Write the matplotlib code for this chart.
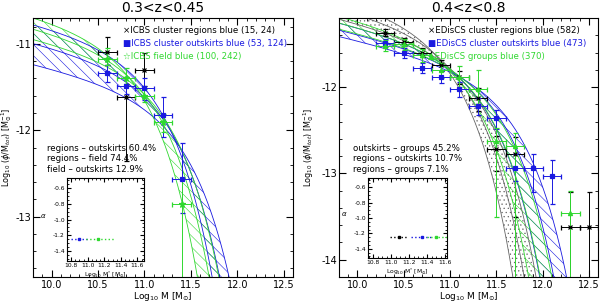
import numpy as np
import matplotlib
matplotlib.use("Agg")
import matplotlib.pyplot as plt
from matplotlib.ticker import MultipleLocator

# ---- colours
BLACK = 'black'
BLUE = '#1a1ae0'
GREEN = '#30d830'

# ---- left panel (0.3<z<0.45), ICBS
l_black_m = [10.6, 10.8, 11.0]
l_black_y = [-11.09, -11.61, -11.30]
l_black_up = [0.17, 0.15, 0.20]
l_black_dn = [0.16, 0.75, 0.19]

l_blue_m = [10.6, 10.8, 11.0, 11.2, 11.4]
l_blue_y = [-11.34, -11.49, -11.51, -11.82, -12.56]
l_blue_up = [0.10, 0.11, 0.12, 0.20, 0.41]
l_blue_dn = [0.10, 0.09, 0.14, 0.26, 0.40]

l_green_m = [10.6, 10.8, 11.0, 11.2, 11.4]
l_green_y = [-11.18, -11.39, -11.60, -11.91, -12.85]
l_green_up = [0.13, 0.11, 0.08, 0.10, 0.30]
l_green_dn = [0.07, 0.08, 0.07, 0.11, 1.50]

# Schechter fits (M*, log norm): lower bound, best, upper bound
l_blue_mstar = [10.975, 11.10, 11.26]
l_blue_norm = [-11.045, -11.30, -11.59]
l_green_mstar = [10.793, 10.95, 11.082]
l_green_norm = [-10.904, -11.087, -11.247]

# inset: alpha vs M*
l_in_m = [10.89, 11.12]
l_in_lo = [10.80, 10.98]
l_in_hi = [11.00, 11.32]
l_in_a = [-1.25, -1.25]
l_in_col = [BLUE, GREEN]

l_legend = ["\u00d7ICBS cluster regions blue (15, 24)",
            "\u25a0ICBS cluster outskirts blue (53, 124)",
            "\u2606ICBS field blue (100, 242)"]
l_stats = ["regions \u2013 outskirts 60.4%",
           "regions \u2013 field 74.4%",
           "field \u2013 outskirts 12.9%"]

# ---- right panel (0.4<z<0.8), EDisCS
r_black_m = [10.3, 10.5, 10.7, 10.9, 11.1, 11.3, 11.5, 11.7, 12.3, 12.5]
r_black_y = [-11.37, -11.48, -11.60, -11.75, -11.88, -12.13, -12.72, -12.78, -13.62, -13.62]
r_black_up = [0.04, 0.05, 0.05, 0.06, 0.07, 0.12, 0.15, 0.20, 0.41, 0.41]
r_black_dn = [0.04, 0.05, 0.05, 0.06, 0.08, 0.15, 0.25, 0.72, 1.00, 1.00]

r_blue_m = [10.3, 10.5, 10.7, 10.9, 11.1, 11.3, 11.5, 11.7, 11.9, 12.1]
r_blue_y = [-11.49, -11.60, -11.78, -11.88, -12.02, -12.22, -12.36, -12.94, -12.94, -13.03]
r_blue_up = [0.05, 0.05, 0.06, 0.07, 0.08, 0.09, 0.10, 0.16, 0.16, 0.18]
r_blue_dn = [0.05, 0.06, 0.06, 0.07, 0.09, 0.10, 0.13, 0.15, 0.27, 0.32]

r_green_m = [10.3, 10.5, 10.7, 10.9, 11.1, 11.3, 11.5, 11.7, 12.3]
r_green_y = [-11.52, -11.50, -11.63, -11.80, -11.88, -12.02, -12.62, -12.68, -13.46]
r_green_up = [0.06, 0.06, 0.07, 0.08, 0.12, 0.22, 0.15, 0.15, 0.26]
r_green_dn = [0.06, 0.07, 0.08, 0.10, 0.12, 0.20, 0.88, 1.60, 1.00]

r_black_mstar = [10.876, 11.02, 11.175]
r_black_norm = [-11.235, -11.38, -11.54]
r_blue_mstar = [11.225, 11.40, 11.56]
r_blue_norm = [-11.60, -11.73, -11.847]
r_green_mstar = [11.085, 11.23, 11.375]
r_green_norm = [-11.483, -11.60, -11.711]

r_in_m = [11.08, 11.34, 11.50]
r_in_lo = [10.98, 11.22, 11.40]
r_in_hi = [11.18, 11.46, 11.70]
r_in_a = [-1.25, -1.25, -1.25]
r_in_col = [BLACK, BLUE, GREEN]

r_legend = ["\u00d7EDisCS cluster regions blue (582)",
            "\u25a0EDisCS cluster outskirts blue (473)",
            "\u25b2EDisCS groups blue (370)"]
r_stats = ["outskirts \u2013 groups 45.2%",
           "regions \u2013 outskirts 10.7%",
           "regions \u2013 groups 7.1%"]

ALPHA = -1.25
plt.rcParams['hatch.linewidth'] = 0.4
plt.rcParams['axes.unicode_minus'] = False


def schechter(m, mstar, norm, alpha=ALPHA):
    x = 10 ** (m - mstar)
    return norm + (1 + alpha) * np.log10(x) - x / np.log(10)


def draw_band(ax, mstars, norms, color, hatch):
    m = np.linspace(9.7, 12.7, 400)
    curves = [schechter(m, ms, nn) for ms, nn in zip(mstars, norms)]
    lo = np.min(curves, axis=0)
    hi = np.max(curves, axis=0)
    ax.fill_between(m, lo, hi, facecolor='none', edgecolor=color,
                    hatch=hatch, linewidth=0)
    for c in curves:
        ax.plot(m, c, color=color, lw=0.6)


def draw_points(ax, m, y, up, dn, color, marker, ms):
    ax.errorbar(m, y, xerr=0.1, yerr=[dn, up], fmt=marker, color=color,
                ms=ms, mew=0.9, elinewidth=0.7, capsize=1.8, capthick=0.7)


def style_axes(ax, ylim, ylab_x):
    ax.set_xlim(9.8, 12.6)
    ax.set_ylim(*ylim)
    ax.xaxis.set_major_locator(MultipleLocator(0.5))
    ax.xaxis.set_minor_locator(MultipleLocator(0.1))
    ax.yaxis.set_major_locator(MultipleLocator(1))
    ax.yaxis.set_minor_locator(MultipleLocator(0.2))
    ax.tick_params(which='both', direction='in', top=True, right=True,
                   labelsize=7, pad=2.5)
    ax.tick_params(axis='y', which='both', pad=1.5)
    ax.tick_params(which='major', length=5)
    ax.tick_params(which='minor', length=2.5)
    ax.set_xlabel(r'Log$_{10}$ M [M$_{\odot}$]', fontsize=6.5)
    ax.xaxis.set_label_coords(0.5, -0.052)
    ax.set_ylabel(r'Log$_{10}$ ($\phi$/M$_{tot}$) [M$_{\odot}^{-1}$]',
                  fontsize=5.8)
    ax.yaxis.set_label_coords(ylab_x, 0.5)


def draw_inset(fig, rect, m, lo, hi, a, cols, xlim):
    ins = fig.add_axes(rect)
    for mm, l, h, aa, c in zip(m, lo, hi, a, cols):
        ins.plot([l, h], [aa, aa], ls=':', color=c, lw=1.0)
        ins.plot([mm], [aa], 's', color=c, ms=2)
    ins.set_xlim(*xlim)
    ins.set_ylim(-1.52, -0.48)
    ins.xaxis.set_major_locator(MultipleLocator(0.2))
    ins.xaxis.set_minor_locator(MultipleLocator(0.05))
    ins.yaxis.set_major_locator(MultipleLocator(0.2))
    ins.yaxis.set_minor_locator(MultipleLocator(0.05))
    ins.tick_params(which='both', direction='in', top=True, right=True,
                    labelsize=4.3, pad=1.5)
    ins.tick_params(which='major', length=3)
    ins.tick_params(which='minor', length=1.5)
    ins.set_xlabel(r'Log$_{10}$ M$^{*}$ [M$_{\odot}$]', fontsize=4.3, labelpad=1)
    ins.set_ylabel(r'$\alpha$', fontsize=5, rotation=0, labelpad=7)
    return ins


fig = plt.figure(figsize=(6, 3.03), dpi=100)
ax1 = fig.add_axes([33 / 600, 1 - 277 / 303, 260 / 600, 259 / 303])
ax2 = fig.add_axes([339 / 600, 1 - 277 / 303, 259 / 600, 259 / 303])

# left panel
draw_band(ax1, l_blue_mstar, l_blue_norm, BLUE, '\\\\\\')
draw_band(ax1, l_green_mstar, l_green_norm, GREEN, '\\\\\\')
draw_points(ax1, l_black_m, l_black_y, l_black_up, l_black_dn, BLACK, 'x', 3.5)
draw_points(ax1, l_blue_m, l_blue_y, l_blue_up, l_blue_dn, BLUE, 's', 3.5)
draw_points(ax1, l_green_m, l_green_y, l_green_up, l_green_dn, GREEN, '*', 4.5)
style_axes(ax1, (-13.7, -10.7), -0.072)
ax1.set_title('0.3<z<0.45', fontsize=10, pad=4)

# right panel
draw_band(ax2, r_black_mstar, r_black_norm, '#666666', '....')
draw_band(ax2, r_blue_mstar, r_blue_norm, BLUE, '\\\\\\')
draw_band(ax2, r_green_mstar, r_green_norm, GREEN, '\\\\\\')
draw_points(ax2, r_black_m, r_black_y, r_black_up, r_black_dn, BLACK, 'x', 3.5)
draw_points(ax2, r_blue_m, r_blue_y, r_blue_up, r_blue_dn, BLUE, 's', 3.5)
draw_points(ax2, r_green_m, r_green_y, r_green_up, r_green_dn, GREEN, '^', 3)
style_axes(ax2, (-14.2, -11.2), -0.09)
ax2.set_title('0.4<z<0.8', fontsize=10, pad=4)

# legends and statistics
for ax, lines in ((ax1, l_legend), (ax2, r_legend)):
    for i, (txt, c) in enumerate(zip(lines, [BLACK, BLUE, GREEN])):
        ax.text(0.345, 0.97 - i * 0.05, txt, color=c, fontsize=6.2,
                transform=ax.transAxes, va='top', ha='left')
for ax, lines in ((ax1, l_stats), (ax2, r_stats)):
    for i, txt in enumerate(lines):
        ax.text(0.055, 0.515 - i * 0.042, txt, color='black', fontsize=6.2,
                transform=ax.transAxes, va='top', ha='left')

draw_inset(fig, [67 / 600, 1 - 261 / 303, 77 / 600, 83 / 303],
           l_in_m, l_in_lo, l_in_hi, l_in_a, l_in_col, (10.75, 11.68))
draw_inset(fig, [368 / 600, 1 - 258 / 303, 79 / 600, 80 / 303],
           r_in_m, r_in_lo, r_in_hi, r_in_a, r_in_col, (10.74, 11.62))

fig.savefig('out.png', dpi=100)
